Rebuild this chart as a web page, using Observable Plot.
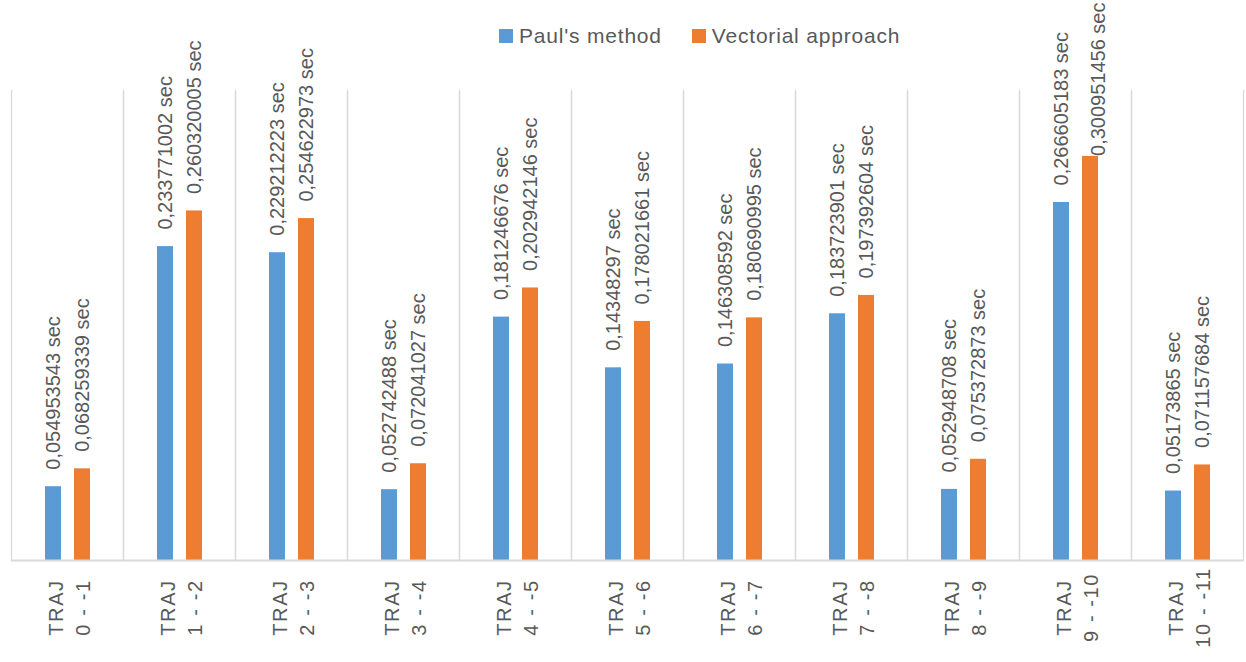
<!DOCTYPE html>
<html>
<head>
<meta charset="utf-8">
<script src="https://cdn.jsdelivr.net/npm/d3@7"></script>
<script src="https://cdn.jsdelivr.net/npm/@observablehq/plot@0.6"></script>
<style>
  body { margin: 0; background: #fff; font-family: "Liberation Sans", Arial, sans-serif; }
  #chart { position: relative; width: 1246px; height: 662px; }
  #chart svg { position: absolute; left: 0; top: 0; }
  #legend { position: absolute; top: 24px; left: 499px; display: flex; align-items: center;
            font-size: 21px; color: #595959; letter-spacing: 0.8px; z-index: 2; }
  #legend .item { display: flex; align-items: center; margin-right: 30px; }
  #legend .sw { display: inline-block; width: 14px; height: 14px; margin-right: 6px; }
</style>
</head>
<body>
<div id="chart"><div id="legend"></div></div>
<script>
// Trajectory segments (category labels)
const trajectories = [
  "TRAJ 0 - -1", "TRAJ 1 - -2", "TRAJ 2 - -3", "TRAJ 3 - -4", "TRAJ 4 - -5",
  "TRAJ 5 - -6", "TRAJ 6 - -7", "TRAJ 7 - -8", "TRAJ 8 - -9", "TRAJ 9 - -10",
  "TRAJ 10 - -11"
];
// Series names
const methods = ["Paul's method", "Vectorial approach"];
// Computation time in seconds, per trajectory
const paulTimes = [
  0.054953543, 0.233771002, 0.229212223, 0.052742488, 0.181246676,
  0.14348297, 0.146308592, 0.183723901, 0.052948708, 0.266605183,
  0.05173865
];
const vectorialTimes = [
  0.068259339, 0.260320005, 0.254622973, 0.072041027, 0.202942146,
  0.178021661, 0.180690995, 0.197392604, 0.075372873, 0.300951456,
  0.071157684
];
const seriesColors = ["#5B9BD5", "#ED7D31"];

const rows = trajectories.flatMap((t, i) => [
  {trajectory: t, method: methods[0], time: paulTimes[i]},
  {trajectory: t, method: methods[1], time: vectorialTimes[i]}
]);

const W = 1246, H = 662;
const marginTop = 90, marginBottom = 102, marginLeft = 8, marginRight = 1;
const textColor = "#595959";
const gridColor = "#d9d9d9";
const fontFamily = '"Liberation Sans", Arial, sans-serif';
const labelSize = 20;
const labelGap = 17;

// Value labels use a decimal comma
const fmt = v => String(v).replace(".", ",") + " sec";

// Same y scale as the chart, to know whether a label still fits above its bar
const yScale = Plot.scale({y: {domain: [0, 0.35], range: [H - marginBottom, marginTop]}});
const ctx = document.createElement("canvas").getContext("2d");
ctx.font = `${labelSize}px "Liberation Sans"`;
const fits = d => yScale.apply(d.time) - labelGap - ctx.measureText(fmt(d.time)).width >= 0;

const textStyle = {fontSize: labelSize, fill: textColor};

const chart = Plot.plot({
  width: W,
  height: H,
  marginTop, marginBottom, marginLeft, marginRight,
  style: {fontFamily, color: textColor, background: "transparent", overflow: "visible"},
  fx: {domain: trajectories, padding: 0, axis: null},
  x: {domain: methods, paddingInner: 0.454, paddingOuter: 1.146, axis: null},
  y: {domain: [0, 0.35], axis: null},
  color: {domain: methods, range: seriesColors},
  marks: [
    Plot.frame({anchor: "left", stroke: gridColor, strokeWidth: 1.3}),
    Plot.frame({anchor: "right", stroke: gridColor, strokeWidth: 1.3}),
    Plot.barY(rows, {fx: "trajectory", x: "method", y: "time", fill: "method"}),
    Plot.ruleY([0], {stroke: gridColor, strokeWidth: 2.2}),
    // labels sitting above their bars
    Plot.text(rows.filter(fits), {
      fx: "trajectory", x: "method", y: "time", text: d => fmt(d.time),
      rotate: -90, textAnchor: "start", dy: -labelGap, ...textStyle
    }),
    // labels too long to sit above their bar are pinned to the top edge
    Plot.text(rows.filter(d => !fits(d)), {
      fx: "trajectory", x: "method", text: d => fmt(d.time),
      frameAnchor: "top", rotate: -90, textAnchor: "end", dy: -(marginTop - 2), ...textStyle
    }),
    // category labels, wrapped onto two lines
    Plot.text(trajectories, {
      fx: d => d, text: d => d.replace(" ", "\n"),
      frameAnchor: "bottom", dy: 47, rotate: -90, textAnchor: "middle",
      lineAnchor: "middle", lineHeight: 1.35, ...textStyle
    })
  ]
});

// Category labels are letter-spaced
d3.select(chart).selectAll("text")
  .filter(function () { return this.textContent.startsWith("TRAJ"); })
  .style("letter-spacing", "1.6px");

const container = document.getElementById("chart");
container.appendChild(chart);

// Legend
const legend = d3.select("#legend");
methods.forEach((m, i) => {
  const item = legend.append("div").attr("class", "item");
  item.append("span").attr("class", "sw").style("background", seriesColors[i]);
  item.append("span").text(m);
});
</script>
</body>
</html>
